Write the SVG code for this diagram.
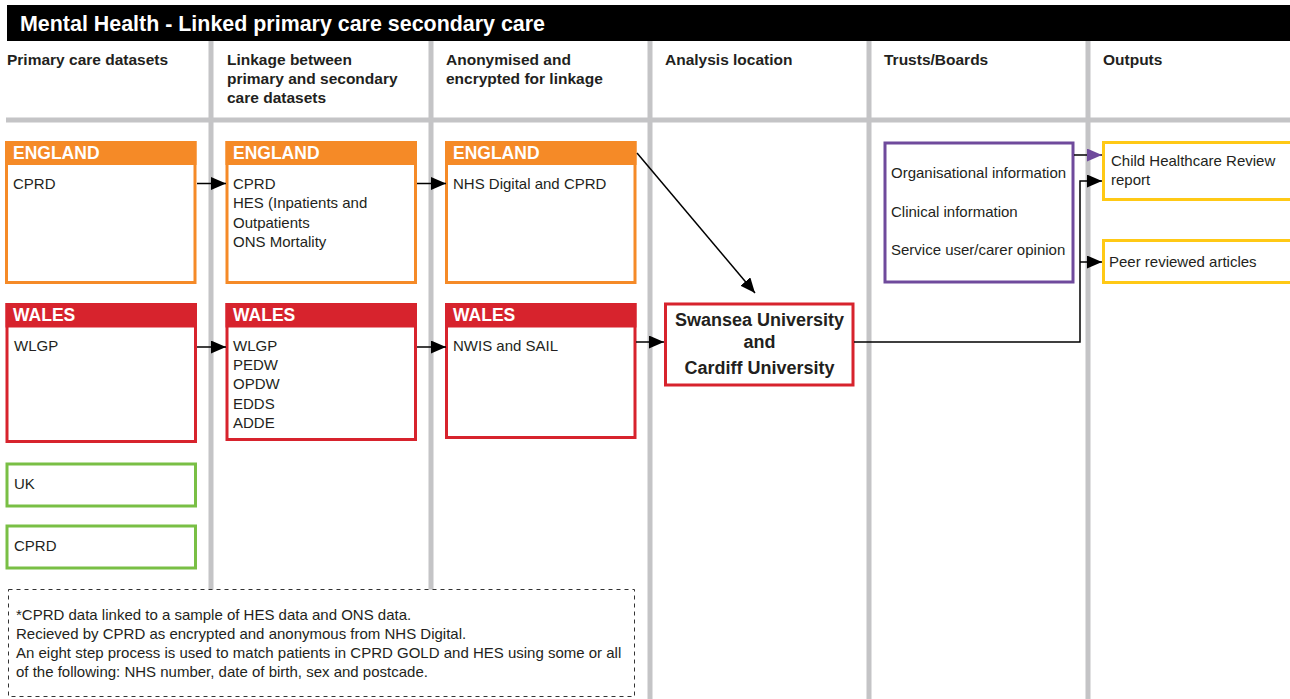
<svg xmlns="http://www.w3.org/2000/svg" width="1290" height="699" viewBox="0 0 1290 699">
<style>
text{font-family:"Liberation Sans",Arial,sans-serif;fill:#231f20}
.title{font-size:21.5px;font-weight:bold;fill:#fff}
.hd{font-size:15.5px;font-weight:bold}
.tag{font-size:17.5px;font-weight:bold;fill:#fff}
.body{font-size:15px}
.uni{font-size:18px;font-weight:bold;text-anchor:middle}
.grid{stroke:#c4c4c6;stroke-width:5;fill:none}
.eng{fill:#fff;stroke:#f58a27;stroke-width:3}
.engh{fill:#f58a27}
.wal{fill:#fff;stroke:#d7232d;stroke-width:3}
.walh{fill:#d7232d}
.grn{fill:#fff;stroke:#79bf45;stroke-width:3}
.pur{fill:#fff;stroke:#6f4a9c;stroke-width:3}
.yel{fill:#fff;stroke:#ffc915;stroke-width:3}
.conn{fill:none;stroke:#000;stroke-width:1.5}
</style>
<defs>
<marker id="ah" viewBox="0 0 15 13" markerWidth="15" markerHeight="13" refX="15" refY="6.5" orient="auto" markerUnits="userSpaceOnUse"><path d="M0,0 L15,6.5 L0,13 z" fill="#000"/></marker>
<marker id="ahp" viewBox="0 0 15 13" markerWidth="15" markerHeight="13" refX="15" refY="6.5" orient="auto" markerUnits="userSpaceOnUse"><path d="M0,0 L15,6.5 L0,13 z" fill="#6f4a9c"/></marker>
</defs>
<rect width="1290" height="699" fill="#fff"/>
<g id="grid">
<line class="grid" x1="6" y1="120" x2="1290" y2="120"/>
<line class="grid" x1="211" y1="40" x2="211" y2="590"/>
<line class="grid" x1="431" y1="40" x2="431" y2="590"/>
<line class="grid" x1="650" y1="40" x2="650" y2="699"/>
<line class="grid" x1="869" y1="40" x2="869" y2="699"/>
<line class="grid" x1="1088" y1="40" x2="1088" y2="699"/>
</g>
<g id="title">
<rect x="7" y="5" width="1283" height="36" fill="#000"/>
<text class="title" x="20" y="31" textLength="525" lengthAdjust="spacingAndGlyphs">Mental Health - Linked primary care secondary care</text>
</g>
<g id="headers">
<text class="hd" x="7" y="65">Primary care datasets</text>
<text class="hd" x="227" y="65">Linkage between</text>
<text class="hd" x="227" y="84">primary and secondary</text>
<text class="hd" x="227" y="103">care datasets</text>
<text class="hd" x="446" y="65">Anonymised and</text>
<text class="hd" x="446" y="84">encrypted for linkage</text>
<text class="hd" x="665" y="65">Analysis location</text>
<text class="hd" x="884" y="65">Trusts/Boards</text>
<text class="hd" x="1103" y="65">Outputs</text>
</g>
<g id="eng1">
<rect class="eng" x="6.5" y="142.5" width="188.5" height="140"/>
<rect class="engh" x="5" y="141" width="191.5" height="24"/>
<text class="tag" x="13" y="159">ENGLAND</text>
<text class="body" x="13" y="189">CPRD</text>
</g>
<g id="eng2">
<rect class="eng" x="227" y="142.5" width="188.5" height="140"/>
<rect class="engh" x="225.5" y="141" width="191.5" height="24"/>
<text class="tag" x="233" y="159">ENGLAND</text>
<text class="body" x="233" y="189">CPRD</text>
<text class="body" x="233" y="208">HES (Inpatients and</text>
<text class="body" x="233" y="227.5">Outpatients</text>
<text class="body" x="233" y="247">ONS Mortality</text>
</g>
<g id="eng3">
<rect class="eng" x="446.5" y="142.5" width="188.5" height="140"/>
<rect class="engh" x="445" y="141" width="191.5" height="24"/>
<text class="tag" x="453" y="159">ENGLAND</text>
<text class="body" x="453" y="189">NHS Digital and CPRD</text>
</g>
<g id="wal1">
<rect class="wal" x="7" y="304.5" width="188.5" height="137"/>
<rect class="walh" x="5.5" y="303" width="191.5" height="24.5"/>
<text class="tag" x="13" y="321">WALES</text>
<text class="body" x="14" y="351">WLGP</text>
</g>
<g id="wal2">
<rect class="wal" x="227" y="304.5" width="188.5" height="135"/>
<rect class="walh" x="225.5" y="303" width="191.5" height="24.5"/>
<text class="tag" x="233" y="321">WALES</text>
<text class="body" x="233" y="351">WLGP</text>
<text class="body" x="233" y="370">PEDW</text>
<text class="body" x="233" y="389">OPDW</text>
<text class="body" x="233" y="408.5">EDDS</text>
<text class="body" x="233" y="427.5">ADDE</text>
</g>
<g id="wal3">
<rect class="wal" x="446.5" y="304.5" width="188.5" height="133"/>
<rect class="walh" x="445" y="303" width="191.5" height="24.5"/>
<text class="tag" x="453" y="321">WALES</text>
<text class="body" x="453" y="351">NWIS and SAIL</text>
</g>
<g id="uk">
<rect class="grn" x="7" y="464" width="188.5" height="42"/>
<text class="body" x="14" y="489">UK</text>
</g>
<g id="cprd">
<rect class="grn" x="7" y="526" width="188.5" height="42"/>
<text class="body" x="14" y="551">CPRD</text>
</g>
<g id="swansea">
<rect class="wal" x="665.5" y="304" width="187.5" height="81"/>
<text class="uni" x="759.5" y="326">Swansea University</text>
<text class="uni" x="759.5" y="348">and</text>
<text class="uni" x="759.5" y="374">Cardiff University</text>
</g>
<g id="trusts">
<rect class="pur" x="885" y="143" width="188" height="139"/>
<text class="body" x="891" y="178">Organisational information</text>
<text class="body" x="891" y="217">Clinical information</text>
<text class="body" x="891" y="255">Service user/carer opinion</text>
</g>
<g id="child">
<rect class="yel" x="1103.5" y="142.5" width="190" height="57"/>
<text class="body" x="1111" y="166">Child Healthcare Review</text>
<text class="body" x="1111" y="185">report</text>
</g>
<g id="peer">
<rect class="yel" x="1103.5" y="240.5" width="190" height="42"/>
<text class="body" x="1109" y="267">Peer reviewed articles</text>
</g>
<g id="note">
<rect x="8.5" y="589.5" width="626" height="107" fill="#fff" stroke="#333" stroke-width="1" stroke-dasharray="4,4"/>
<text class="body" x="16" y="620">*CPRD data linked to a sample of HES data and ONS data.</text>
<text class="body" x="16" y="639">Recieved by CPRD as encrypted and anonymous from NHS Digital.</text>
<text class="body" x="16" y="658">An eight step process is used to match patients in CPRD GOLD and HES using some or all</text>
<text class="body" x="16" y="677">of the following: NHS number, date of birth, sex and postcade.</text>
</g>
<g id="connectors">
<line class="conn" x1="197" y1="183.5" x2="226" y2="183.5" marker-end="url(#ah)"/>
<line class="conn" x1="417" y1="183.5" x2="446" y2="183.5" marker-end="url(#ah)"/>
<line class="conn" x1="197" y1="347" x2="226" y2="347" marker-end="url(#ah)"/>
<line class="conn" x1="417" y1="347" x2="446" y2="347" marker-end="url(#ah)"/>
<line class="conn" x1="636" y1="342" x2="664" y2="342" marker-end="url(#ah)"/>
<line class="conn" x1="637" y1="153" x2="755" y2="293" marker-end="url(#ah)"/>
<path class="conn" d="M854,342 H1080 V181 H1102" stroke="#333" marker-end="url(#ah)"/>
<path class="conn" d="M1080,262 H1102" marker-end="url(#ah)"/>
<path class="conn" d="M1074,155 H1102" stroke="#6f4a9c" stroke-width="2" marker-end="url(#ahp)"/>
</g>
</svg>
